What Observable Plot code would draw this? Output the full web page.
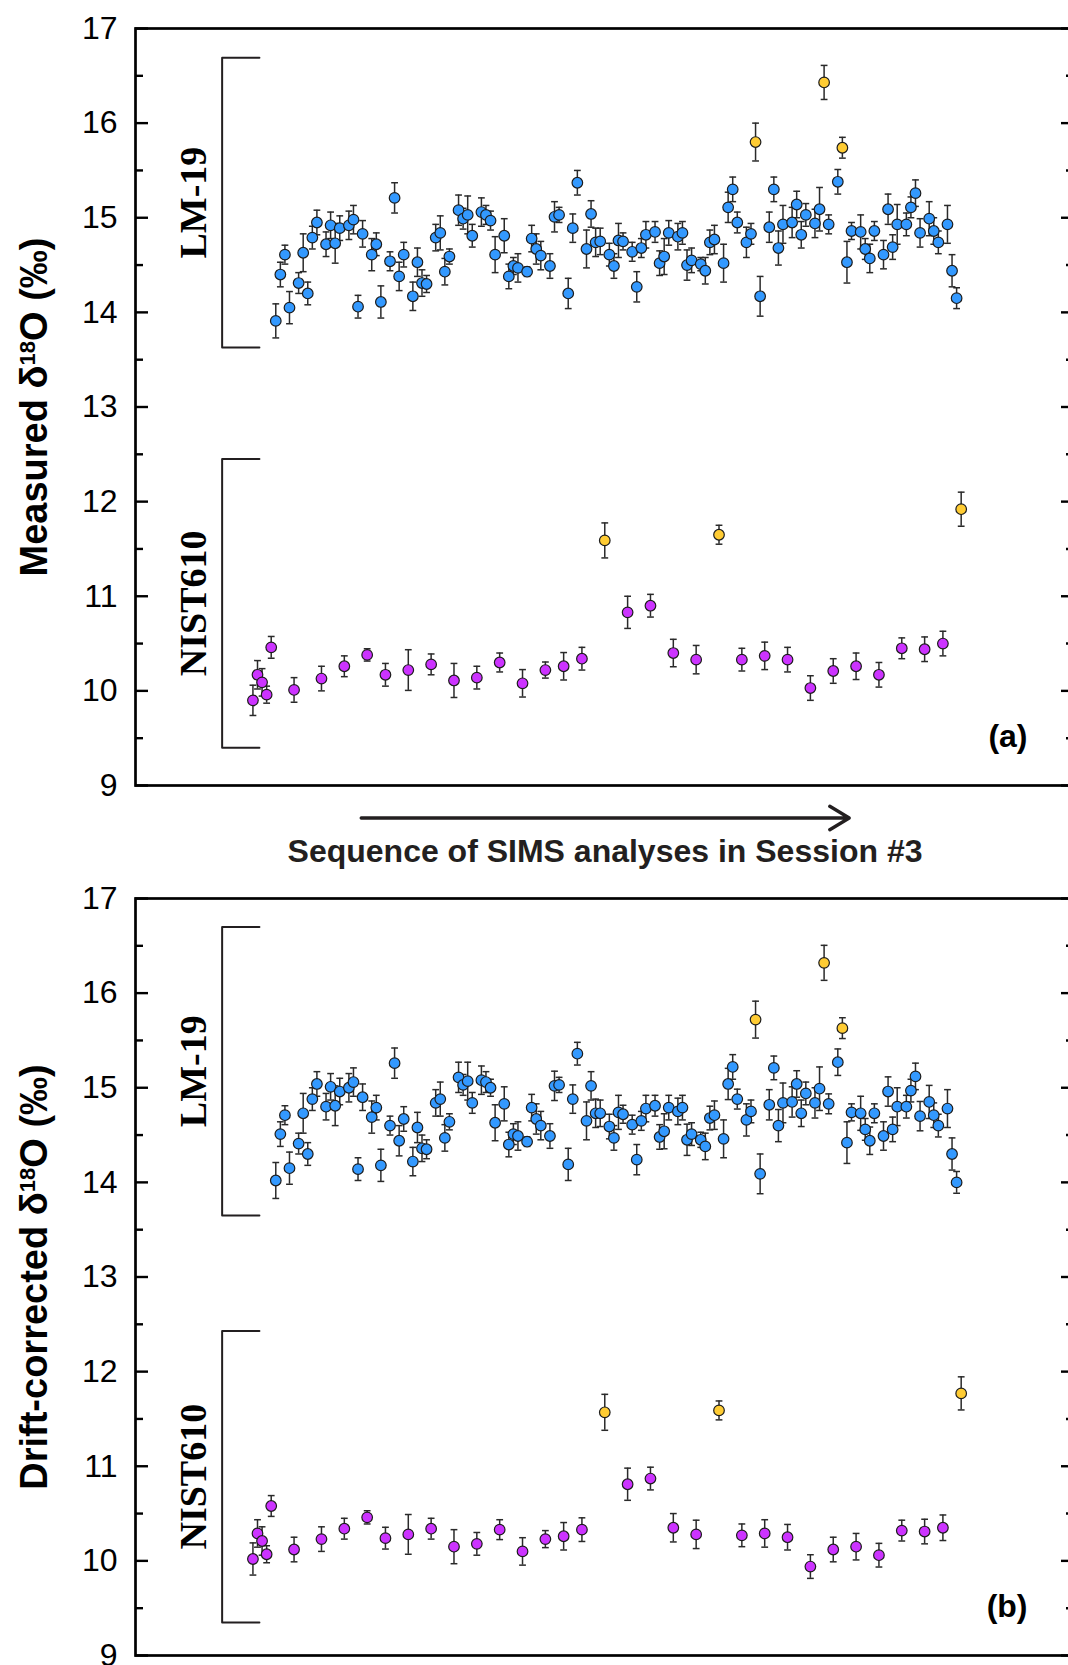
<!DOCTYPE html>
<html><head><meta charset="utf-8">
<script src="https://cdn.jsdelivr.net/npm/d3@7"></script>
<script src="https://cdn.jsdelivr.net/npm/@observablehq/plot@0.6"></script>
<style>
html,body{margin:0;padding:0;background:#fff;overflow:hidden;}
#wrap{width:1068px;height:1665px;overflow:hidden;position:relative;background:#fff;}
#wrap svg{display:block;}
</style></head><body><div id="wrap"></div>
<script>
// ---------- DATA (analysis number in Session #3, δ18O value, 1σ error) ----------
const lmSeq = [6,7,8,9,11,12,13,14,15,17,18,19,20,22,23,24,25,27,28,29,31,32,33,34,36,37,38,39,41,42,43,44,46,47,48,49,51,52,53,54,56,57,58,59,61,62,63,64,66,67,68,70,71,72,74,75,76,77,79,80,81,82,84,85,86,87,89,90,91,92,94,95,96,97,99,100,101,102,104,105,106,107,109,110,112,114,115,116,117,119,120,121,122,124,125,127,129,131,132,134,135,136,137,139,140,141,142,144,145,146,147,149,150,151,153,154,155];
const lmMeasured = [13.91,14.40,14.61,14.05,14.31,14.63,14.20,14.79,14.95,14.72,14.92,14.73,14.89,14.92,14.98,14.06,14.83,14.61,14.72,14.11,14.54,15.21,14.38,14.61,14.17,14.53,14.31,14.30,14.79,14.84,14.43,14.59,15.08,14.99,15.03,14.81,15.06,15.03,14.97,14.61,14.81,14.38,14.49,14.47,14.43,14.78,14.67,14.60,14.49,15.01,15.03,14.20,14.89,15.37,14.67,15.04,14.74,14.75,14.61,14.49,14.76,14.75,14.64,14.27,14.68,14.82,14.85,14.52,14.59,14.84,14.80,14.84,14.50,14.55,14.51,14.44,14.74,14.77,14.52,15.11,15.30,14.95,14.74,14.83,14.17,14.90,15.30,14.68,14.93,14.95,15.14,14.82,15.03,14.94,15.09,14.93,15.38,14.53,14.86,14.85,14.67,14.57,14.86,14.61,15.09,14.69,14.93,14.93,15.11,15.26,14.84,14.99,14.86,14.74,14.93,14.44,14.15];
const lmMeasuredErr = [.18,.13,.10,.17,.11,.20,.12,.12,.13,.13,.14,.21,.13,.15,.15,.12,.14,.17,.12,.17,.10,.16,.15,.13,.15,.15,.14,.09,.14,.18,.14,.08,.16,.11,.20,.12,.15,.10,.10,.19,.18,.13,.09,.15,.05,.14,.16,.15,.13,.16,.08,.16,.15,.13,.20,.14,.15,.14,.12,.13,.18,.09,.10,.16,.10,.14,.11,.13,.19,.13,.14,.12,.16,.13,.07,.14,.13,.15,.20,.16,.13,.11,.16,.11,.21,.16,.13,.18,.20,.16,.14,.14,.12,.15,.23,.10,.13,.22,.09,.18,.11,.15,.10,.15,.16,.13,.21,.12,.11,.14,.15,.18,.14,.12,.20,.17,.11];
const lmCorrected = [14.02,14.51,14.71,14.15,14.41,14.73,14.30,14.88,15.04,14.80,15.01,14.81,14.96,15.00,15.06,14.14,14.90,14.69,14.79,14.18,14.60,15.26,14.44,14.67,14.22,14.58,14.36,14.35,14.84,14.88,14.47,14.64,15.11,15.03,15.07,14.84,15.08,15.06,15.00,14.63,14.83,14.40,14.51,14.49,14.43,14.79,14.67,14.60,14.49,15.02,15.03,14.19,14.88,15.36,14.65,15.02,14.73,14.73,14.59,14.47,14.74,14.72,14.61,14.24,14.65,14.78,14.81,14.48,14.54,14.79,14.75,14.79,14.45,14.51,14.45,14.38,14.68,14.71,14.46,15.04,15.22,14.88,14.66,14.75,14.09,14.82,15.21,14.60,14.84,14.85,15.04,14.73,14.94,14.84,14.99,14.83,15.27,14.42,14.74,14.73,14.56,14.44,14.73,14.49,14.96,14.56,14.80,14.80,14.97,15.12,14.70,14.85,14.71,14.60,14.78,14.30,14.00];
const lmCorrectedErr = [.19,.13,.10,.17,.11,.21,.12,.12,.13,.14,.14,.21,.14,.15,.15,.12,.14,.17,.13,.17,.10,.16,.16,.13,.15,.16,.14,.10,.14,.18,.14,.085,.16,.11,.20,.11,.15,.11,.09,.19,.18,.13,.11,.15,.05,.14,.16,.15,.13,.155,.08,.17,.15,.12,.20,.15,.15,.14,.13,.13,.18,.095,.10,.16,.10,.14,.11,.13,.185,.13,.14,.13,.165,.12,.08,.14,.125,.15,.20,.165,.13,.105,.17,.12,.21,.16,.125,.17,.21,.16,.14,.14,.12,.16,.23,.105,.14,.22,.09,.18,.115,.145,.10,.15,.155,.13,.20,.12,.12,.14,.155,.175,.13,.12,.20,.17,.115];

const lmOutSeq = [111,126,130];
const lmOutMeasured = [15.80,16.43,15.74];
const lmOutMeasuredErr = [.20,.18,.11];
const lmOutCorrected = [15.72,16.32,15.63];
const lmOutCorrectedErr = [.195,.185,.11];

const nistSeq = [1,2,3,4,5,10,16,21,26,30,35,40,45,50,55,60,65,69,73,83,88,93,98,108,113,118,123,128,133,138,143,148,152];
const nistMeasured = [9.90,10.17,10.09,9.96,10.46,10.01,10.13,10.26,10.38,10.17,10.22,10.28,10.11,10.14,10.30,10.08,10.22,10.26,10.34,10.83,10.90,10.40,10.33,10.33,10.37,10.33,10.03,10.21,10.26,10.17,10.45,10.44,10.50];
const nistMeasuredErr = [.16,.15,.145,.09,.115,.13,.13,.11,.065,.12,.215,.11,.18,.12,.10,.145,.085,.145,.12,.17,.12,.145,.15,.12,.145,.13,.13,.13,.14,.13,.11,.13,.13];
const nistCorrected = [10.02,10.29,10.21,10.07,10.58,10.12,10.23,10.34,10.46,10.24,10.28,10.34,10.15,10.18,10.33,10.10,10.23,10.26,10.33,10.81,10.87,10.35,10.28,10.27,10.29,10.25,9.94,10.12,10.15,10.06,10.32,10.31,10.35];
const nistCorrectedErr = [.17,.145,.15,.09,.11,.13,.13,.11,.07,.115,.21,.11,.18,.12,.105,.145,.09,.145,.125,.17,.12,.15,.15,.12,.145,.135,.125,.13,.14,.125,.11,.13,.135];

const nistOutSeq = [78,103,156];
const nistOutMeasured = [11.59,11.65,11.92];
const nistOutMeasuredErr = [.185,.10,.18];
const nistOutCorrected = [11.57,11.59,11.77];
const nistOutCorrectedErr = [.19,.10,.175];

const groupNames = ["LM-19", "NIST610"];
const bracketTopA = [16.69, 12.45], bracketBottomA = [13.63, 9.40];
const bracketTopB = [16.70, 12.43], bracketBottomB = [13.65, 9.35];

const yMajorTicks = [9,10,11,12,13,14,15,16,17];
const yMinorTicks = [9.5,10.5,11.5,12.5,13.5,14.5,15.5,16.5];

// ---------- DRAWING ----------
const W = 1080;
const frameL = 135, frameR = 1074;
const xDomain = [-24.7, 180.8];
const seqPerPx = (xDomain[1] - xDomain[0]) / (frameR - frameL);

const cBlue = "#3399ff", cMag = "#cc33ff", cYel = "#ffcc33";
const cErr = "#2a2a2a", cInk = "#231f20";

const capSymbol = {draw(ctx, size) { const w = Math.sqrt(size / Math.PI); ctx.moveTo(-w, 0); ctx.lineTo(w, 0); }};

function rows(seq, val, err) { return seq.map((s, i) => ({seq: s, v: val[i], e: err[i]})); }

function errMarks(data) {
  return [
    Plot.ruleX(data, {x: "seq", y1: d => d.v - d.e, y2: d => d.v + d.e, stroke: cErr, strokeWidth: 1.5}),
    Plot.dot(data, {x: "seq", y: d => d.v + d.e, symbol: capSymbol, r: 3.4, stroke: cErr, strokeWidth: 1.5, fill: "none"}),
    Plot.dot(data, {x: "seq", y: d => d.v - d.e, symbol: capSymbol, r: 3.4, stroke: cErr, strokeWidth: 1.5, fill: "none"})
  ];
}
function dotMarks(data, fill) {
  return Plot.dot(data, {x: "seq", y: "v", r: 5.3, fill, stroke: "#1c1c1c", strokeWidth: 1.2});
}

function tickMarks() {
  const L = xDomain[0], R = xDomain[1];
  const maj = 13 * seqPerPx, min = 8 * seqPerPx;
  const st = {stroke: "#000", strokeWidth: 2.4};
  return [
    Plot.ruleY(yMajorTicks, {y: d => d, x1: L, x2: L + maj, ...st}),
    Plot.ruleY(yMinorTicks, {y: d => d, x1: L, x2: L + min, ...st}),
    Plot.ruleY(yMajorTicks, {y: d => d, x1: R - maj, x2: R, ...st}),
    Plot.ruleY(yMinorTicks, {y: d => d, x1: R - min, x2: R, ...st})
  ];
}

function bracketMarks(tops, bottoms) {
  const xv = -5.74, xe = 2.42, xl = -11.9;
  const lines = groupNames.map((g, i) => [
    {g, x: xe, y: tops[i]}, {g, x: xv, y: tops[i]}, {g, x: xv, y: bottoms[i]}, {g, x: xe, y: bottoms[i]}
  ]).flat();
  const labels = groupNames.map((g, i) => ({g, y: (tops[i] + bottoms[i]) / 2}));
  return [
    Plot.line(lines, {x: "x", y: "y", z: "g", stroke: cInk, strokeWidth: 2, curve: "linear"}),
    Plot.text(labels, {x: () => xl, y: "y", text: "g", rotate: -90, textAnchor: "middle", lineAnchor: "middle",
      fontFamily: "'Liberation Serif', 'Times New Roman', serif", fontWeight: "bold", fontSize: 38, fill: "#000"})
  ];
}

function makePanel({lm, lmOut, nist, nistOut, tops, bottoms, title, tag, height, marginBottom, caption}) {
  const marks = [
    ...bracketMarks(tops, bottoms),
    ...errMarks(lm), ...errMarks(lmOut), ...errMarks(nist), ...errMarks(nistOut),
    dotMarks(lm, cBlue), dotMarks(lmOut, cYel), dotMarks(nist, cMag), dotMarks(nistOut, cYel),
    ...tickMarks(),
    Plot.frame({stroke: "#000", strokeWidth: 2.7}),
    Plot.axisY({anchor: "left", ticks: yMajorTicks, tickSize: 0, tickPadding: 18, fontSize: 32, label: null, tickFormat: d => String(d), fill: "#000"}),
    Plot.text([title], {text: d => d, frameAnchor: "left", dx: -101, rotate: -90, textAnchor: "middle", lineAnchor: "middle", fontSize: 38, fontWeight: "bold", fill: "#000"}),
    Plot.text([tag], {text: d => d, frameAnchor: "bottom-right", dx: -47, dy: -49, textAnchor: "end", lineAnchor: "middle", fontSize: 32, fontWeight: "bold", fill: "#000"})
  ];
  if (caption) {
    marks.push(
      Plot.arrow([{a: 24.7, b: 131.5}], {x1: "a", x2: "b", y1: () => 9, y2: () => 9, dy: 32.5, stroke: cInk, strokeWidth: 3.4, headLength: 10, headAngle: 62}),
      Plot.text([caption], {text: d => d, frameAnchor: "bottom", dy: 66, textAnchor: "middle", lineAnchor: "middle", fontSize: 32, fontWeight: "bold", fill: cInk})
    );
  }
  const svg = Plot.plot({
    width: W, height, marginLeft: frameL, marginRight: W - frameR, marginTop: 28, marginBottom,
    style: {fontFamily: "'Liberation Sans', Arial, sans-serif", background: "#fff", maxWidth: "none", overflow: "visible"},
    x: {domain: xDomain, axis: null},
    y: {domain: [9, 17], axis: null},
    marks
  });
  // superscript "18" in δ18O
  d3.select(svg).selectAll("text, tspan").each(function() {
    for (const node of Array.from(this.childNodes)) {
      if (node.nodeType !== 3) continue;
      const m = node.nodeValue.match(/^(.*δ)18(O.*)$/);
      if (!m) continue;
      const ns = "http://www.w3.org/2000/svg";
      const parent = this;
      const t1 = document.createTextNode(m[1]);
      const sup = document.createElementNS(ns, "tspan");
      sup.setAttribute("font-size", "22");
      sup.setAttribute("dy", "-12");
      sup.textContent = "18";
      const rest = document.createElementNS(ns, "tspan");
      rest.setAttribute("dy", "12");
      rest.textContent = m[2];
      parent.insertBefore(t1, node);
      parent.insertBefore(sup, node);
      parent.insertBefore(rest, node);
      parent.removeChild(node);
    }
  });
  return svg;
}

const wrap = document.getElementById("wrap");
wrap.append(makePanel({
  lm: rows(lmSeq, lmMeasured, lmMeasuredErr),
  lmOut: rows(lmOutSeq, lmOutMeasured, lmOutMeasuredErr),
  nist: rows(nistSeq, nistMeasured, nistMeasuredErr),
  nistOut: rows(nistOutSeq, nistOutMeasured, nistOutMeasuredErr),
  tops: bracketTopA, bottoms: bracketBottomA,
  title: "Measured δ18O (‰)", tag: "(a)",
  height: 870, marginBottom: 85,
  caption: "Sequence of SIMS analyses in Session #3"
}));
wrap.append(makePanel({
  lm: rows(lmSeq, lmCorrected, lmCorrectedErr),
  lmOut: rows(lmOutSeq, lmOutCorrected, lmOutCorrectedErr),
  nist: rows(nistSeq, nistCorrected, nistCorrectedErr),
  nistOut: rows(nistOutSeq, nistOutCorrected, nistOutCorrectedErr),
  tops: bracketTopB, bottoms: bracketBottomB,
  title: "Drift-corrected δ18O (‰)", tag: "(b)",
  height: 795, marginBottom: 10
}));
</script>
</body></html>
